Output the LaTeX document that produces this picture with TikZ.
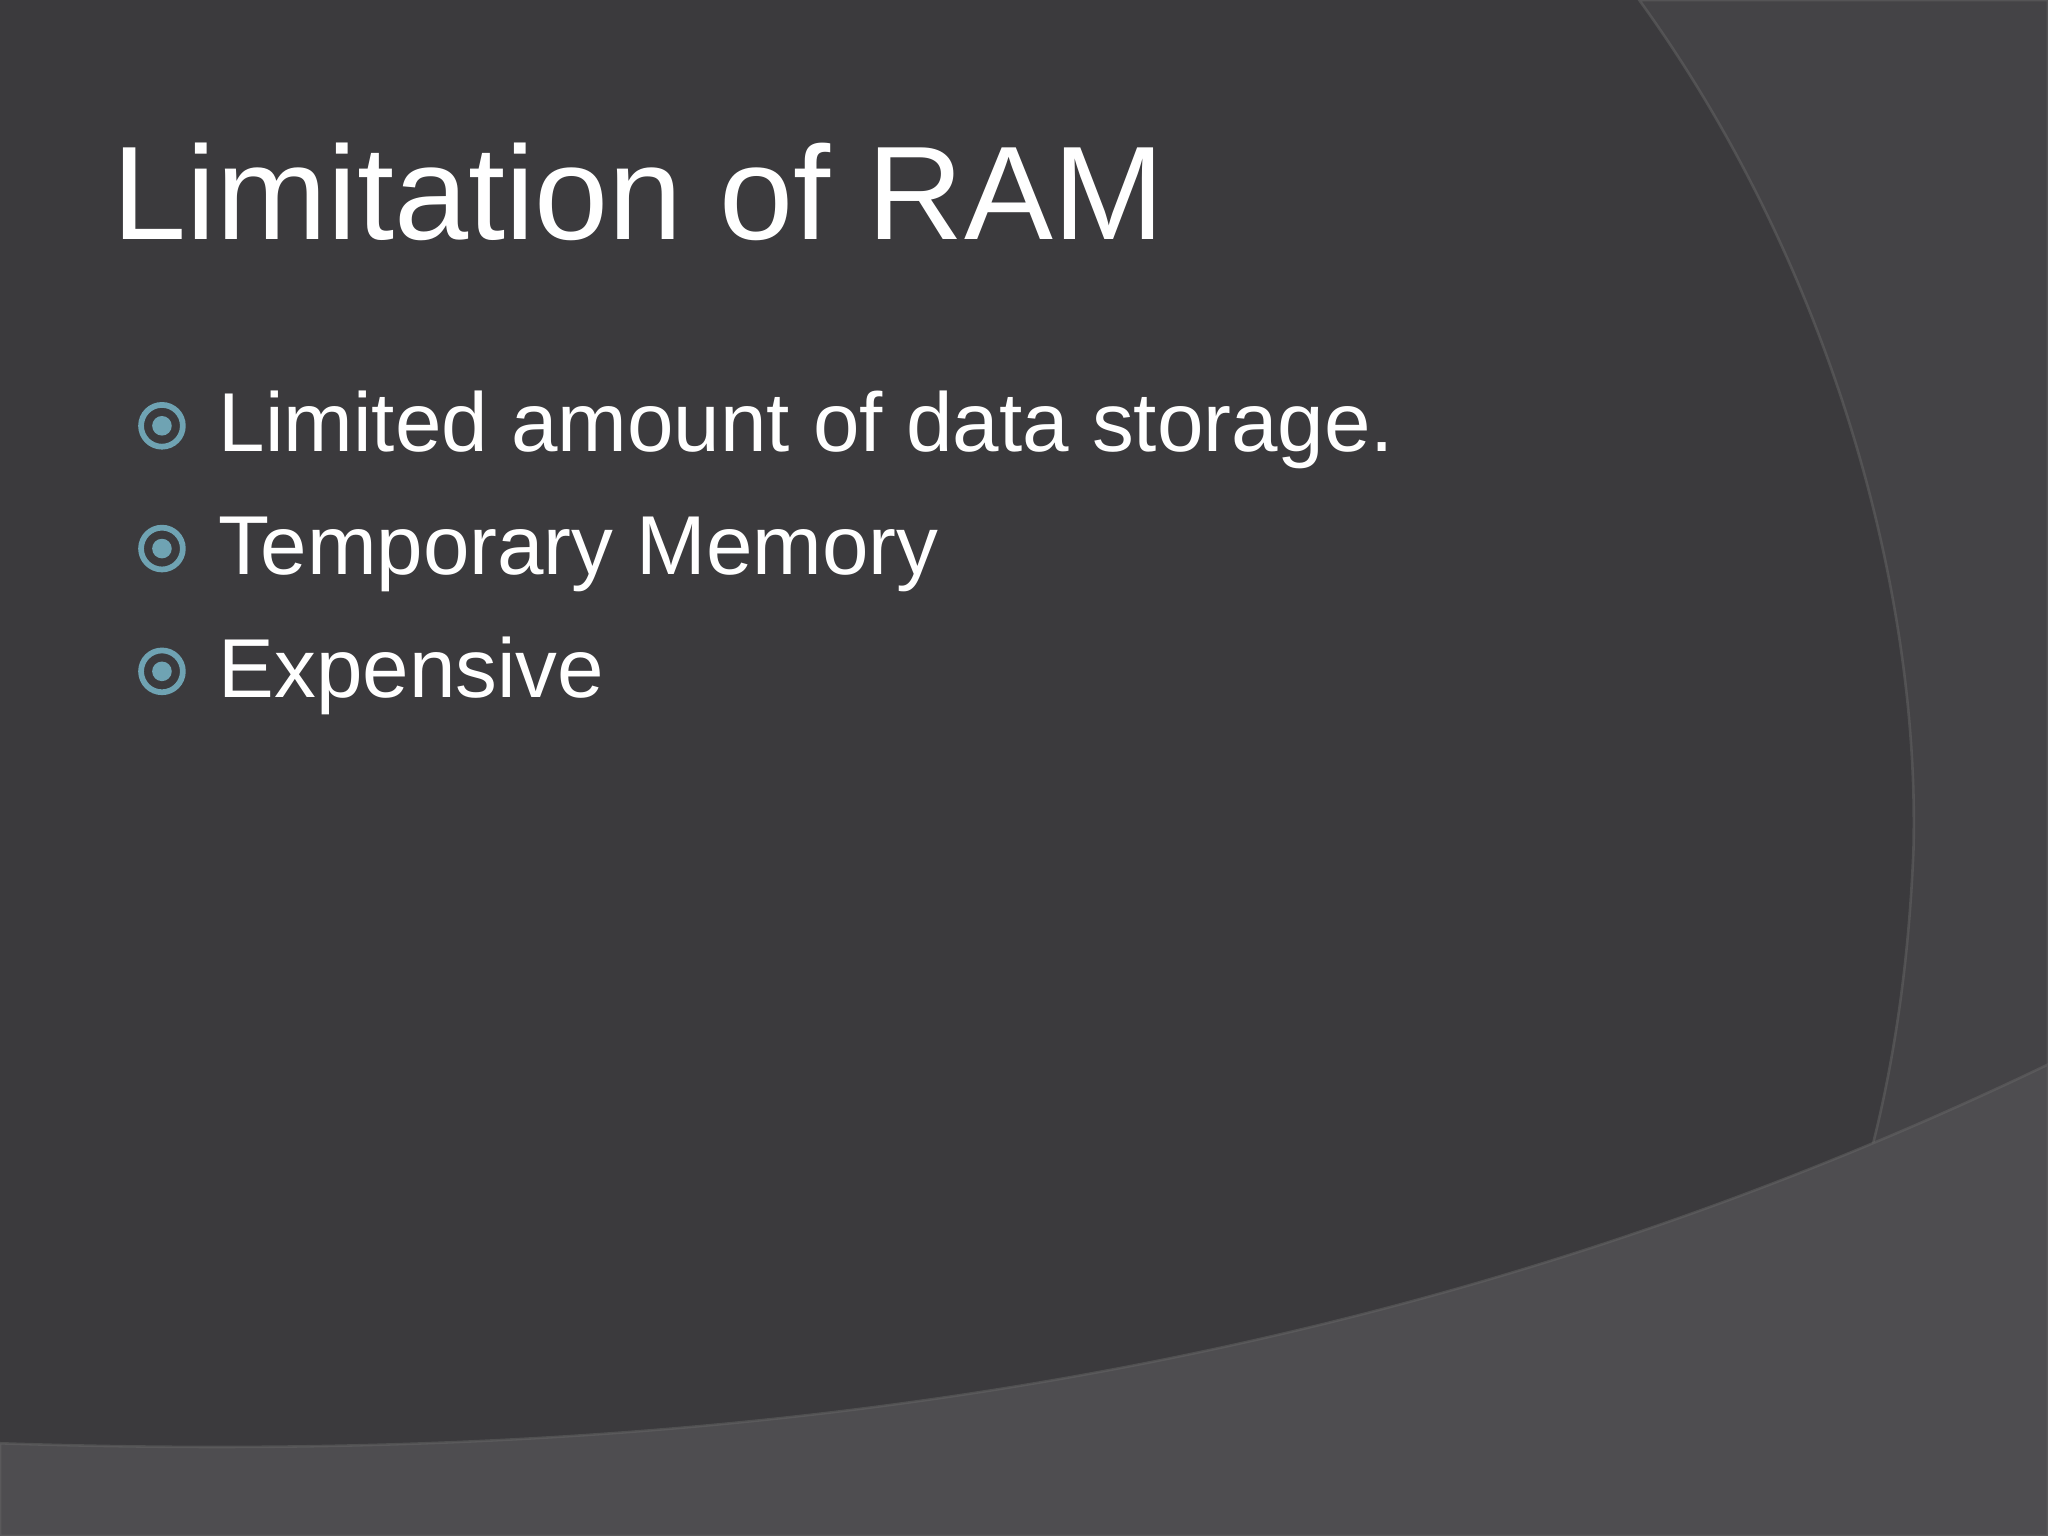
\documentclass[tikz,border=0pt]{standalone}
\usepackage{fontspec}
\setmainfont{Liberation Sans}
\definecolor{bgdark}{HTML}{3B3A3D}
\definecolor{bgright}{HTML}{444346}
\definecolor{bgbottom}{HTML}{4E4D50}
\definecolor{bul}{HTML}{6FA3B3}
\tikzset{
  item/.style={anchor=base west,text=white,font=\fontsize{32}{38}\selectfont,inner sep=0pt},
  bring/.style={draw=bul,line width=2.2pt},
  bdot/.style={fill=bul}
}
\begin{document}
\begin{tikzpicture}[x=0.5pt,y=-0.5pt]
\useasboundingbox (0,0) rectangle (1568,1176);
\fill[bgdark] (0,0) rectangle (1568,1176);
\fill[bgright,draw=black!60,draw opacity=0.5,line width=1pt] (1255,0) .. controls (1400,200) and (1470,450) .. (1465,650) .. controls (1455,900) and (1380,1050) .. (1300,1176) -- (1568,1176) -- (1568,0) -- cycle;
\fill[bgbottom,draw=black!60,draw opacity=0.5,line width=1pt] (0,1105) .. controls (600,1125) and (1100,1040) .. (1568,815) -- (1568,1176) -- (0,1176) -- cycle;
\node[anchor=base west,text=white,font=\fontsize{51}{60}\selectfont,inner sep=0pt] (title) at (86,183) {Limitation of RAM};
\foreach \n/\y/\t in {a/346/{Limited amount of data storage.},b/440/{Temporary Memory},c/534/{Expensive}}{
  \node[item] (t\n) at (167,\y) {\t};
  \draw[bring] (124,\y-20) circle (16);
  \fill[bdot] (124,\y-20) circle (7.5);
}
\end{tikzpicture}
\end{document}
